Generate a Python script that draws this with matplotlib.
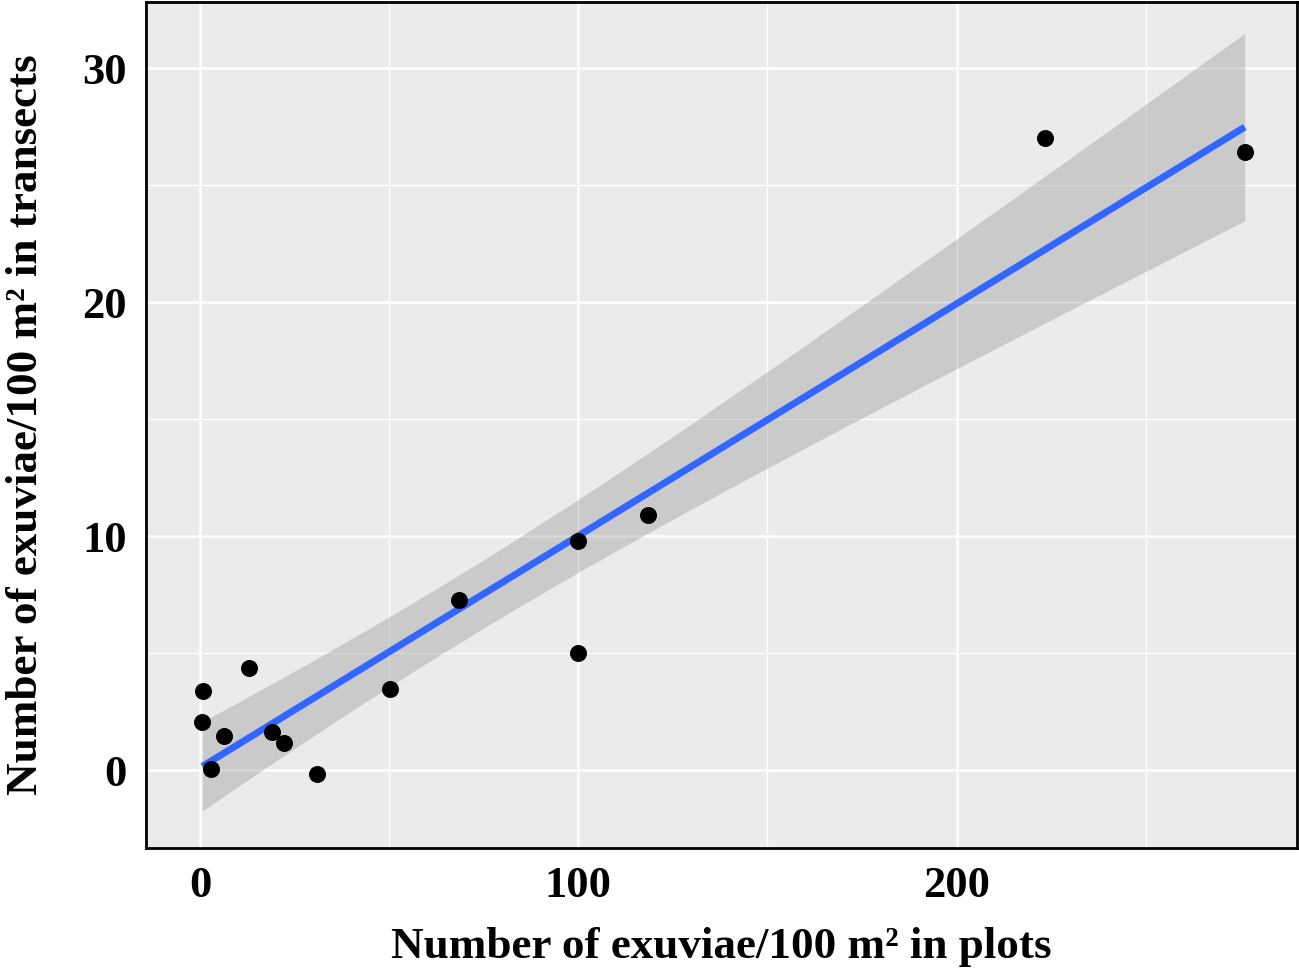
import numpy as np
import matplotlib
matplotlib.use("Agg")
import matplotlib.pyplot as plt

# exuviae per 100 m2: plots (x) vs transects (y)
plots = [0.7, 0.6, 2.8, 6.3, 12.8, 19.0, 22.3, 31.0, 50.2, 68.5,
         100.0, 100.0, 118.5, 223.4, 276.2]
transects = [3.40, 2.08, 0.06, 1.47, 4.36, 1.62, 1.15, -0.17, 3.47, 7.28,
             9.81, 5.03, 10.91, 27.03, 26.44]

x_ticks = [0, 100, 200]
y_ticks = [0, 10, 20, 30]

plt.rcParams['font.family'] = ['Liberation Serif', 'DejaVu Serif']
plt.rcParams['font.weight'] = 'bold'

x = np.array(plots)
y = np.array(transects)

# linear fit with 95% confidence band (as geom_smooth(method="lm"))
n = len(x)
slope, intercept = np.polyfit(x, y, 1)
resid = y - (slope * x + intercept)
s = np.sqrt(np.sum(resid ** 2) / (n - 2))
t_crit = 2.160  # t(0.975, df=13)
xs = np.linspace(x.min(), x.max(), 200)
ys = slope * xs + intercept
se = s * np.sqrt(1 / n + (xs - x.mean()) ** 2 / np.sum((x - x.mean()) ** 2))

fig = plt.figure(figsize=(12.99, 9.68), dpi=100)
ax = fig.add_axes([146 / 1299, 120 / 968, 1151 / 1299, 846 / 968])
ax.set_facecolor('#EBEBEB')

ax.fill_between(xs, ys - t_crit * se, ys + t_crit * se, color='#999999', alpha=0.4,
                linewidth=0, zorder=2)
ax.plot(xs, ys, color='#3366FF', linewidth=5, solid_capstyle='butt', zorder=3)
ax.scatter(x, y, s=150, color='black', linewidths=0, zorder=4)

ax.set_xlim(-14.3, 290.0)
ax.set_ylim(-3.32, 32.83)
ax.set_xticks(x_ticks)
ax.set_yticks(y_ticks)
ax.set_xticks([50, 150, 250], minor=True)
ax.set_yticks([5, 15, 25], minor=True)
ax.grid(True, which='major', color='white', linewidth=1.8, zorder=1)
ax.grid(True, which='minor', color='white', linewidth=0.9, zorder=1)
ax.set_axisbelow(True)
ax.tick_params(which='both', length=0, labelsize=32)
ax.tick_params(axis='x', pad=13)
ax.tick_params(axis='y', pad=14)
for lab in ax.get_xticklabels() + ax.get_yticklabels():
    lab.set_fontweight('bold')

for sp in ax.spines.values():
    sp.set_linewidth(2)
    sp.set_color('black')

ax.set_xlabel('Number of exuviae/100 m² in plots', fontsize=32.5, fontweight='bold', labelpad=15)
ax.set_ylabel('Number of exuviae/100 m² in transects', fontsize=32.5, fontweight='bold', labelpad=26)

fig.savefig('out.png', dpi=100)
